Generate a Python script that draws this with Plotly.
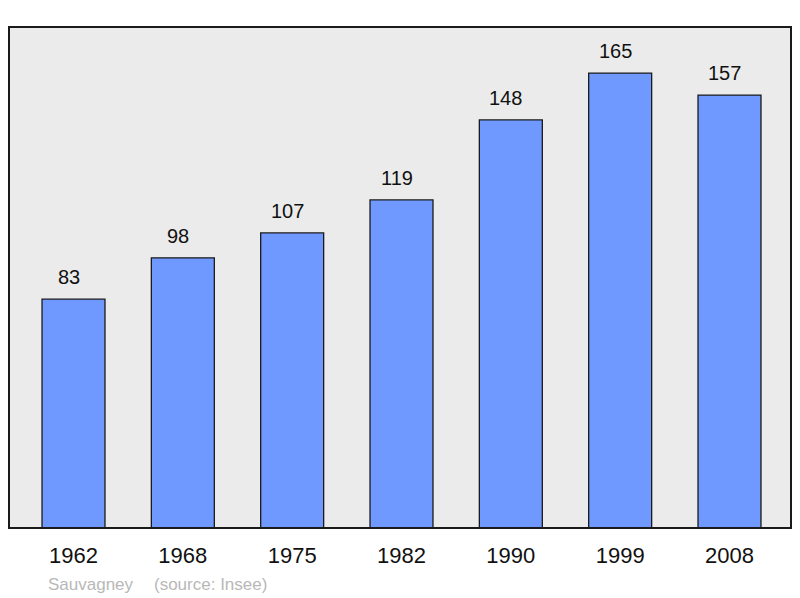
import plotly.graph_objects as go

years = ["1962", "1968", "1975", "1982", "1990", "1999", "2008"]
population = [83, 98, 107, 119, 148, 165, 157]
commune = "Sauvagney"
source = "(source: Insee)"

fig = go.Figure(go.Bar(
    x=years,
    y=population,
    width=0.576,
    marker=dict(color="#7099ff", line=dict(color="#1a1a1a", width=1.3)),
    hoverinfo="skip",
))

# value labels above each bar (x given as category index, numeric-looking names
# would otherwise be read as positions)
for i, val in enumerate(population):
    fig.add_annotation(x=i, y=val, text=str(val), showarrow=False,
                       yshift=22, xshift=-5, font=dict(size=20, color="#111"))

fig.add_annotation(xref="paper", yref="paper", x=0.0475, y=-0.112, xanchor="left",
                   yanchor="middle", text=commune, showarrow=False,
                   font=dict(size=17, color="#b8b8b8"))
fig.add_annotation(xref="paper", yref="paper", x=0.1835, y=-0.112, xanchor="left",
                   yanchor="middle", text=source, showarrow=False,
                   font=dict(size=17, color="#b8b8b8"))

# frame: fill under the bars, border on top
fig.add_shape(type="rect", xref="paper", yref="paper", x0=0, x1=1, y0=0, y1=1,
              fillcolor="#ebebeb", line=dict(width=0), layer="below")
fig.add_shape(type="rect", xref="paper", yref="paper", x0=0, x1=1, y0=0, y1=1,
              line=dict(color="#1a1a1a", width=2), layer="above")

fig.update_layout(
    width=800, height=598,
    margin=dict(l=9, r=9, t=27, b=70),
    paper_bgcolor="white",
    plot_bgcolor="rgba(0,0,0,0)",
    showlegend=False,
    font=dict(family="Liberation Sans, Arial, sans-serif"),
    xaxis=dict(type="category", range=[-0.59, 6.5625], showgrid=False,
               zeroline=False, showline=False, ticks="outside", ticklen=8,
               tickcolor="rgba(0,0,0,0)", tickfont=dict(size=22, color="#111")),
    yaxis=dict(range=[0, 181.7], showgrid=False, zeroline=False,
               showticklabels=False, showline=False),
)

# drop the default body margin so the figure fills the window exactly
fig.write_html("out.html", config={"displayModeBar": False},
               post_script="document.body.style.margin='0';"
                           "document.body.style.overflow='hidden';")
